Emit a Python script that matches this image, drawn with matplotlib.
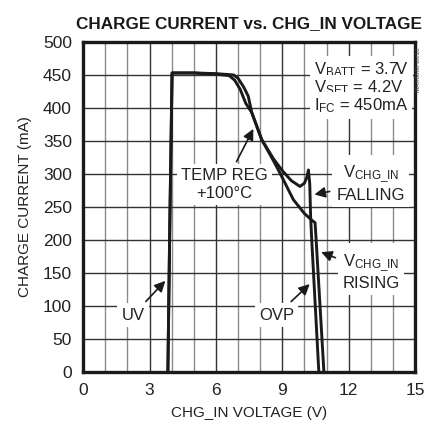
import numpy as np
import matplotlib
matplotlib.use("Agg")
import matplotlib.pyplot as plt
from matplotlib.ticker import MultipleLocator

plt.rcParams['font.family'] = ['Liberation Sans Narrow', 'Liberation Sans', 'DejaVu Sans']
plt.rcParams['font.stretch'] = 'condensed'
plt.rcParams['mathtext.fontset'] = 'custom'
plt.rcParams['mathtext.rm'] = 'Liberation Sans'

# curve that drops to the OVP threshold with a bump (Vchg_in falling)
v_fall = [3.83, 3.92, 4.02, 5.0, 6.0, 6.6, 6.85, 7.1, 7.35, 7.62, 8.07, 8.6, 9.0, 9.4,
          9.8, 10.0, 10.12, 10.18, 10.24, 10.28, 10.33, 10.65]
i_fall = [0, 230, 453, 453, 451, 449, 442, 428, 407, 393, 352, 323, 305, 290,
          281, 286, 296, 306, 285, 235, 200, 0]

# curve that stays flat a little longer (Vchg_in rising)
v_rise = [3.83, 3.92, 4.02, 5.0, 6.0, 6.8, 7.0, 7.25, 7.46, 7.62, 8.07, 8.6, 8.9, 9.5,
          10.0, 10.33, 10.48, 10.52, 10.88]
i_rise = [0, 230, 453, 453, 452, 450, 445, 432, 418, 393, 352, 320, 301, 261,
          240, 230, 226, 205, 0]

xticks = [0, 3, 6, 9, 12, 15]
yticks = [0, 50, 100, 150, 200, 250, 300, 350, 400, 450, 500]

fig = plt.figure(figsize=(4.24, 4.37), dpi=100)
ax = fig.add_axes([0.196, 0.149, 0.783, 0.755])

ax.set_xlim(0, 15)
ax.set_ylim(0, 500)
ax.set_xticks(xticks)
ax.set_yticks(yticks)
ax.xaxis.set_minor_locator(MultipleLocator(1))
ax.grid(which='major', axis='both', color='#333333', lw=1.0)
ax.grid(which='minor', axis='x', color='#8a8a8a', lw=1.0)
ax.set_axisbelow(True)
ax.tick_params(which='both', length=0, labelsize=12.5, pad=8, colors='#222222')
for s in ax.spines.values():
    s.set_linewidth(2.4)
    s.set_color('#1a1a1a')

ax.plot(v_fall, i_fall, color='#1a1a1a', lw=2.1, zorder=5)
ax.plot(v_rise, i_rise, color='#1a1a1a', lw=2.1, zorder=5)

ax.set_title('CHARGE CURRENT vs. CHG_IN VOLTAGE', fontsize=12.3, fontweight='bold',
             color='#1a1a1a', pad=10)
ax.set_xlabel('CHG_IN VOLTAGE (V)', fontsize=11, color='#222222', labelpad=6)
ax.set_ylabel('CHARGE CURRENT (mA)', fontsize=11, color='#222222', labelpad=8)

box = dict(facecolor='white', edgecolor='none', pad=3)
arr = dict(arrowstyle='-|>', color='#1a1a1a', lw=1.2, mutation_scale=16)
tkw = dict(fontsize=12, color='#222222', ha='center', va='center', zorder=4)

ax.text(10.42, 458, '$\\mathregular{V_{BATT}}$ = 3.7V', ha='left', va='center',
        fontsize=12, color='#222222', bbox=box, zorder=4)
ax.text(10.42, 430, '$\\mathregular{V_{SET}}$ = 4.2V', ha='left', va='center',
        fontsize=12, color='#222222', bbox=box, zorder=4)
ax.text(10.42, 403, '$\\mathregular{I_{FC}}$ = 450mA', ha='left', va='center',
        fontsize=12, color='#222222', bbox=box, zorder=4)

ax.annotate('TEMP REG\n+100°C', xy=(7.75, 372), xytext=(6.4, 284), arrowprops=arr,
            linespacing=1.2, bbox=box, **tkw)
ax.annotate('$\\mathregular{V_{CHG\\_IN}}$\nFALLING', xy=(10.33, 268), xytext=(13.0, 286),
            arrowprops=arr, linespacing=1.2, bbox=box, **tkw)
ax.annotate('$\\mathregular{V_{CHG\\_IN}}$\nRISING', xy=(10.64, 183), xytext=(13.0, 152),
            arrowprops=arr, linespacing=1.2, bbox=box, **tkw)
ax.annotate('OVP', xy=(10.33, 136), xytext=(8.75, 86), arrowprops=arr, bbox=box, **tkw)
ax.annotate('UV', xy=(3.8, 141), xytext=(2.25, 86), arrowprops=arr, bbox=box, **tkw)

fig.text(0.988, 0.84, 'MAX8808 toc10', rotation=90, fontsize=4.5, color='#444444',
         ha='center', va='center')

fig.savefig('out.png', dpi=100)
